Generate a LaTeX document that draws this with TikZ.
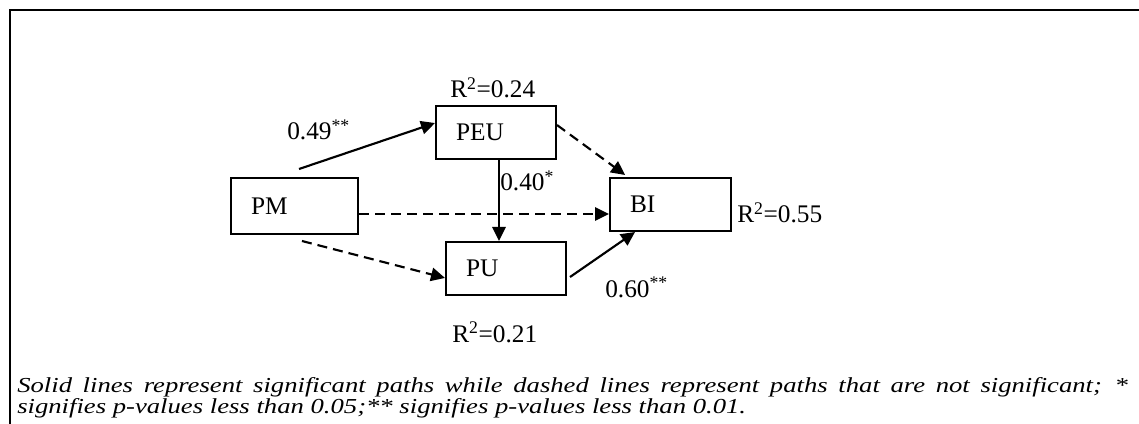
\documentclass[tikz,border=0pt]{standalone}
\usepackage{fontspec}
\setmainfont{Liberation Serif}
\newfontfamily\capfont[FakeStretch=1.25]{Liberation Serif}
\usetikzlibrary{arrows.meta}
\begin{document}
\begin{tikzpicture}[x=0.75pt,y=-0.75pt,
  box/.style={draw,line width=1.5pt,align=left,inner xsep=15pt,inner ysep=0pt,
    font=\fontsize{19}{22}\selectfont},
  lbl/.style={inner sep=0pt,anchor=base west,font=\fontsize{19}{22}\selectfont},
  sol/.style={line width=1.6pt,-{Triangle[length=10.5pt,width=10pt]}},
  dsh/.style={sol,dash pattern=on 7.5pt off 4.5pt},
  frame/.style={line width=1.6pt}]
\useasboundingbox (0,0) rectangle (1139,424);
\draw[frame] (10,424) -- (10,10) -- (1139,10);

\node[box,text width=65.25pt,minimum height=42pt] (PM) at (294.5,206) {PM};
\node[box,text width=60pt,minimum height=39.75pt] (PEU) at (496,132.5) {PEU};
\node[box,text width=60pt,minimum height=39.75pt] (PU) at (506,268.5) {PU};
\node[box,text width=60.75pt,minimum height=39.75pt] (BI) at (670.5,204.5) {BI};

\draw[sol] ([xshift=3.4pt,yshift=6pt]PM.north) -- ([yshift=7.1pt]PEU.west);
\draw[dsh] ([yshift=5.6pt]PEU.east) -- ([xshift=-34pt,yshift=1.5pt]BI.north);
\draw[dsh] ([yshift=-6pt]PM.east) -- ([yshift=-6pt]PM.east -| BI.west);
\draw[sol] ([xshift=2.25pt]PEU.south) -- ([xshift=2.25pt]PEU.south |- PU.north);
\draw[dsh] ([xshift=5.6pt,yshift=-4.5pt]PM.south) -- ([yshift=-7.1pt]PU.west);
\draw[sol] ([xshift=2.25pt,yshift=-6.4pt]PU.east) -- ([xshift=-26.6pt]BI.south);

\node[lbl] (r24) at (450,98) {R\textsuperscript{2}=0.24};
\node[lbl] (l49) at (287,140) {0.49\textsuperscript{**}};
\node[lbl] (l40) at (500,191) {0.40\textsuperscript{*}};
\node[lbl] (r55) at (737,223) {R\textsuperscript{2}=0.55};
\node[lbl] (l60) at (605,297) {0.60\textsuperscript{**}};
\node[lbl] (r21) at (452,342) {R\textsuperscript{2}=0.21};

\node[anchor=north west,text width=833pt,align=justify,inner sep=0pt,
  font=\capfont\itshape\fontsize{16}{14.5}\selectfont] (cap) at (17,377)
  {Solid lines represent significant paths while dashed lines represent paths that are not significant; *\linebreak
   signifies p-values less than 0.05;** signifies p-values less than 0.01.};
\end{tikzpicture}
\end{document}
